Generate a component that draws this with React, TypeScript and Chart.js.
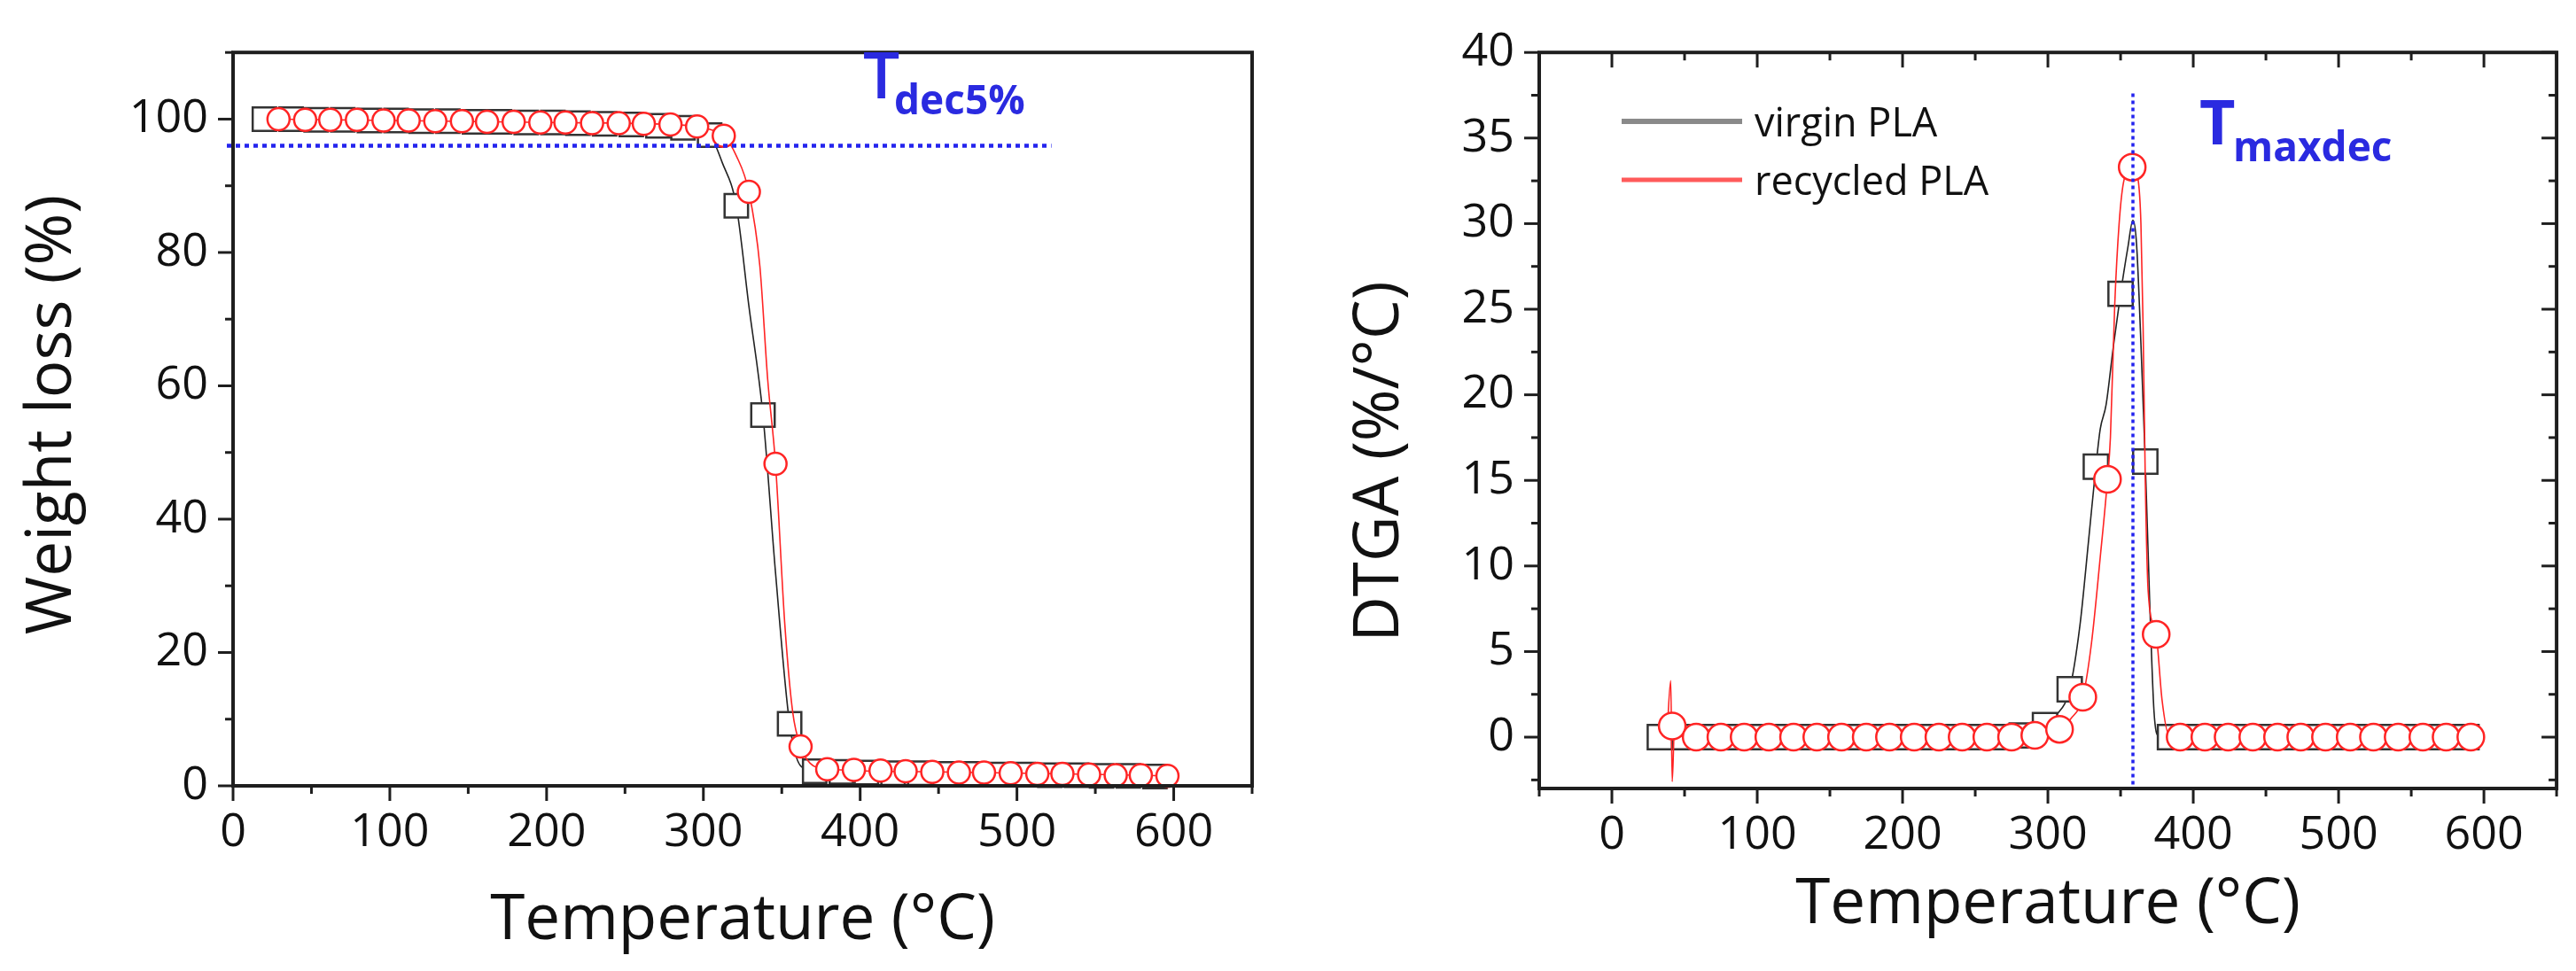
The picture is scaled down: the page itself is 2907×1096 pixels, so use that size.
import React, { useEffect, useRef } from 'react';
import { Chart, registerables } from 'chart.js';

Chart.register(...registerables);

// ---------------- DATA ----------------
// Tick labels
const tempTicks = [0, 100, 200, 300, 400, 500, 600];
const tgaYTicks = [0, 20, 40, 60, 80, 100];
const dtgYTicks = [0, 5, 10, 15, 20, 25, 30, 35, 40];

// Left panel: TGA weight loss (%) vs temperature (°C)
const tgaVirginMarkT = [20, 37, 53, 70, 87, 104, 120, 137, 154, 170, 187, 204, 220, 237, 254, 271, 287, 304, 321, 338, 355, 371, 388, 404, 421, 438, 454, 471, 488, 504, 521, 538, 554, 571, 588];
const tgaVirginMarkW = [100, 100, 99.9, 99.9, 99.8, 99.8, 99.7, 99.7, 99.6, 99.6, 99.5, 99.5, 99.4, 99.3, 99.2, 99.0, 98.7, 97.6, 87.0, 55.6, 9.3, 2.2, 2.1, 2.0, 1.9, 1.9, 1.8, 1.8, 1.7, 1.7, 1.6, 1.6, 1.5, 1.5, 1.4];
const tgaVirginLineT = [20, 100, 200, 287, 298, 304, 312, 321, 329, 338, 346, 355, 362, 371, 450, 588];
const tgaVirginLineW = [100, 99.8, 99.5, 98.7, 98.0, 97.6, 93.5, 87.0, 72.0, 55.6, 32.0, 9.3, 3.0, 2.2, 1.9, 1.4];

const tgaRecycledMarkT = [29, 46, 62, 79, 96, 112, 129, 146, 162, 179, 196, 212, 229, 246, 262, 279, 296, 313, 329, 346, 362, 379, 396, 413, 429, 446, 463, 479, 496, 513, 529, 546, 563, 579, 596];
const tgaRecycledMarkW = [100, 99.9, 99.9, 99.9, 99.8, 99.8, 99.7, 99.7, 99.6, 99.6, 99.5, 99.5, 99.4, 99.4, 99.3, 99.2, 98.9, 97.5, 89.1, 48.3, 5.9, 2.5, 2.4, 2.3, 2.2, 2.1, 2.0, 2.0, 1.9, 1.8, 1.8, 1.7, 1.6, 1.6, 1.5];
const tgaRecycledLineT = [29, 100, 200, 279, 296, 305, 313, 321, 329, 336, 341, 346, 352, 357, 362, 368, 379, 450, 596];
const tgaRecycledLineW = [100, 99.8, 99.5, 99.2, 98.9, 98.4, 97.5, 94.5, 89.1, 78.0, 61.0, 48.3, 24.0, 11.0, 5.9, 3.4, 2.5, 2.1, 1.5];

const tgaOnsetLevel = 96; // T dec 5% reference line (%)
const tgaOnsetLineEnd = 522; // °C

// Right panel: DTGA (%/°C) vs temperature (°C)
const dtgVirginMarkT = [33, 50, 66, 83, 99, 116, 133, 149, 166, 182, 199, 216, 232, 249, 265, 282, 298, 315, 333, 350, 367, 384, 401, 418, 435, 452, 469, 486, 503, 520, 537, 554, 571, 588];
const dtgVirginMarkV = [0, 0, 0, 0, 0, 0, 0, 0, 0, 0, 0, 0, 0, 0, 0, 0.1, 0.7, 2.8, 15.8, 25.9, 16.1, 0, 0, 0, 0, 0, 0, 0, 0, 0, 0, 0, 0, 0];
const dtgVirginLineT = [30, 150, 270, 288, 298, 306, 315, 322, 328, 333, 336, 340, 345, 350, 355, 358.5, 361, 364, 367, 370, 373, 376, 450, 590];
const dtgVirginLineV = [0, 0, 0, 0.2, 0.7, 1.3, 2.8, 6.5, 11.5, 15.8, 18.0, 19.4, 22.8, 25.9, 28.6, 30.2, 28.8, 23.0, 16.1, 8.0, 1.5, 0.1, 0, 0];

const dtgRecycledMarkT = [41.5, 58, 75, 91, 108, 125, 141, 158, 175, 191, 208, 225, 241, 258, 275, 291, 308, 324, 341, 358, 374.5, 391, 408, 424, 441, 458, 474, 491, 508, 524, 541, 558, 574, 591];
const dtgRecycledMarkV = [0.65, 0, 0, 0, 0, 0, 0, 0, 0, 0, 0, 0, 0, 0, 0, 0.1, 0.46, 2.33, 15.06, 33.3, 6.0, 0, 0, 0, 0, 0, 0, 0, 0, 0, 0, 0, 0, 0];
const dtgRecycledLineT = [38, 40.5, 41.5, 43, 46, 150, 270, 291, 300, 308, 316, 324, 330, 336, 341, 343, 346, 349, 352, 358, 362, 364, 365.5, 367, 369, 374.5, 378.5, 383, 450, 591];
const dtgRecycledLineV = [0.3, 3.3, -2.6, 0.4, 0.05, 0, 0, 0.1, 0.25, 0.46, 1.1, 2.33, 5.5, 10.5, 15.06, 17.5, 25.3, 30.0, 32.4, 33.3, 32.6, 30.0, 24.0, 15.0, 8.5, 6.0, 2.2, 0.2, 0, 0];

const dtgPeakT = 358.5; // T maxdec reference line (°C)
const dtgPeakLineTop = 37.6;

const legendLabels = ['virgin PLA', 'recycled PLA'];

// ---------------- STYLE ----------------
const FONT = '"Open Sans", "Noto Sans", "DejaVu Sans", sans-serif';
const AXIS = '#1e1e1e';
const TEXT = '#111111';
const RED = '#ff2424';
const BLACK = '#222222';
const SQUARE = '#333333';
const BLUE = '#2424ee';
const BLUE_TEXT = '#2a2ae0';

const pts = (xs: number[], ys: number[]) => xs.map((x, i) => ({ x, y: ys[i] }));

function drawFrameTicks(chart: any, xMinor: number, yMinor: number, inner: boolean) {
  const { ctx, chartArea: a } = chart;
  const xs = chart.scales.x;
  const ys = chart.scales.y;
  const MAJ = 17;
  const MIN = 9;
  ctx.save();
  ctx.strokeStyle = AXIS;
  ctx.lineWidth = 3;
  ctx.lineCap = 'butt';
  const line = (x1: number, y1: number, x2: number, y2: number) => {
    ctx.beginPath();
    ctx.moveTo(x1, y1);
    ctx.lineTo(x2, y2);
    ctx.stroke();
  };
  const isMajor = (v: number, minor: number) => {
    const r = v / (2 * minor);
    return Math.abs(r - Math.round(r)) < 1e-6;
  };
  for (let v = Math.ceil(xs.min / xMinor - 1e-9) * xMinor; v <= xs.max + 1e-9; v += xMinor) {
    const len = isMajor(v, xMinor) ? MAJ : MIN;
    const px = xs.getPixelForValue(v);
    line(px, a.bottom, px, a.bottom + len);
    if (inner) line(px, a.top, px, a.top + len);
  }
  for (let v = Math.ceil(ys.min / yMinor - 1e-9) * yMinor; v <= ys.max + 1e-9; v += yMinor) {
    const len = isMajor(v, yMinor) ? MAJ : MIN;
    const py = ys.getPixelForValue(v);
    line(a.left, py, a.left - len, py);
    if (inner) line(a.right, py, a.right - len, py);
  }
  ctx.lineWidth = 4;
  ctx.lineJoin = 'miter';
  ctx.strokeRect(a.left, a.top, a.right - a.left, a.bottom - a.top);
  ctx.restore();
}

function drawText(ctx: any, s: string, x: number, y: number, font: string, color: string, align: string = 'left', rot: number = 0) {
  ctx.save();
  ctx.font = font;
  ctx.fillStyle = color;
  ctx.textAlign = align;
  ctx.textBaseline = 'alphabetic';
  ctx.translate(x, y);
  if (rot) ctx.rotate(rot);
  ctx.fillText(s, 0, 0);
  ctx.restore();
}

const leftDecor = {
  id: 'leftDecor',
  afterDatasetsDraw(chart: any) {
    const { ctx, chartArea: a } = chart;
    const xs = chart.scales.x;
    const ys = chart.scales.y;
    ctx.save();
    ctx.strokeStyle = BLUE;
    ctx.lineWidth = 4.5;
    ctx.setLineDash([5, 5]);
    const py = ys.getPixelForValue(tgaOnsetLevel);
    ctx.beginPath();
    ctx.moveTo(a.left - 7, py);
    ctx.lineTo(xs.getPixelForValue(tgaOnsetLineEnd), py);
    ctx.stroke();
    ctx.restore();
    drawFrameTicks(chart, 50, 10, false);
  },
  afterDraw(chart: any) {
    const { ctx, chartArea: a } = chart;
    drawText(ctx, 'Temperature (°C)', (a.left + a.right) / 2, 1060, `71px ${FONT}`, TEXT, 'center');
    drawText(ctx, 'Weight loss (%)', 80, 468, `71px ${FONT}`, TEXT, 'center', -Math.PI / 2);
    drawText(ctx, 'T', 974, 111, `600 73px ${FONT}`, BLUE_TEXT);
    drawText(ctx, 'dec5%', 1009, 129, `bold 46px ${FONT}`, BLUE_TEXT);
  },
};

const rightDecor = {
  id: 'rightDecor',
  afterDatasetsDraw(chart: any) {
    const { ctx, chartArea: a } = chart;
    const xs = chart.scales.x;
    const ys = chart.scales.y;
    ctx.save();
    ctx.strokeStyle = BLUE;
    ctx.lineWidth = 3.5;
    ctx.setLineDash([4, 4]);
    const px = xs.getPixelForValue(dtgPeakT);
    ctx.beginPath();
    ctx.moveTo(px, ys.getPixelForValue(dtgPeakLineTop));
    ctx.lineTo(px, a.bottom);
    ctx.stroke();
    ctx.restore();
    drawFrameTicks(chart, 50, 2.5, true);
  },
  afterDraw(chart: any) {
    const { ctx, chartArea: a } = chart;
    drawText(ctx, 'Temperature (°C)', (a.left + a.right) / 2, 1042, `71px ${FONT}`, TEXT, 'center');
    drawText(ctx, 'DTGA (%/°C)', 128, 521, `71px ${FONT}`, TEXT, 'center', -Math.PI / 2);
    drawText(ctx, 'T', 1032, 163, `bold 70px ${FONT}`, BLUE_TEXT);
    drawText(ctx, 'maxdec', 1070, 182, `bold 46px ${FONT}`, BLUE_TEXT);
    // legend
    ctx.save();
    ctx.lineCap = 'butt';
    ctx.strokeStyle = '#8a8a8a';
    ctx.lineWidth = 6;
    ctx.beginPath();
    ctx.moveTo(380, 137);
    ctx.lineTo(516, 137);
    ctx.stroke();
    ctx.strokeStyle = '#ff5a5a';
    ctx.lineWidth = 5;
    ctx.beginPath();
    ctx.moveTo(380, 203);
    ctx.lineTo(516, 203);
    ctx.stroke();
    ctx.restore();
    drawText(ctx, legendLabels[0], 530, 154, `45px ${FONT}`, TEXT);
    drawText(ctx, legendLabels[1], 530, 220, `45px ${FONT}`, TEXT);
  },
};

function makeConfig(p: any) {
  const tickFont = { family: FONT, size: 52 };
  return {
    type: 'scatter',
    data: {
      datasets: [
        {
          data: p.virginLine,
          showLine: true,
          borderColor: BLACK,
          borderWidth: 1.6,
          pointRadius: 0,
          cubicInterpolationMode: 'monotone',
          order: 4,
        },
        {
          data: p.virginMarks,
          showLine: false,
          pointStyle: 'rect',
          pointRadius: p.squareR,
          pointBorderWidth: 2.5,
          pointBorderColor: SQUARE,
          pointBackgroundColor: '#ffffff',
          borderColor: SQUARE,
          backgroundColor: '#ffffff',
          clip: false,
          order: 3,
        },
        {
          data: p.recycledLine,
          showLine: true,
          borderColor: RED,
          borderWidth: 1.6,
          pointRadius: 0,
          cubicInterpolationMode: 'monotone',
          order: 2,
        },
        {
          data: p.recycledMarks,
          showLine: false,
          pointStyle: 'circle',
          pointRadius: p.circleR,
          pointBorderWidth: 2.5,
          pointBorderColor: RED,
          pointBackgroundColor: '#ffffff',
          borderColor: RED,
          backgroundColor: '#ffffff',
          clip: false,
          order: 1,
        },
      ],
    },
    options: {
      responsive: false,
      animation: false,
      events: [],
      layout: { padding: { left: 0, top: p.padTop, right: p.padRight, bottom: 0 } },
      plugins: { legend: { display: false }, tooltip: { enabled: false } },
      scales: {
        x: {
          type: 'linear',
          position: 'bottom',
          min: p.xMin,
          max: p.xMax,
          grid: { display: false, drawTicks: false },
          border: { display: false },
          title: { display: false },
          afterBuildTicks: (s: any) => {
            s.ticks = p.xTicks.map((v: number) => ({ value: v }));
          },
          ticks: {
            autoSkip: false,
            maxRotation: 0,
            padding: 22,
            color: TEXT,
            font: tickFont,
            callback: (v: number) => String(v),
          },
          afterFit: (s: any) => {
            s.height = p.xHeight;
          },
        },
        y: {
          type: 'linear',
          position: 'left',
          min: p.yMin,
          max: p.yMax,
          grid: { display: false, drawTicks: false },
          border: { display: false },
          title: { display: false },
          afterBuildTicks: (s: any) => {
            s.ticks = p.yTicks.map((v: number) => ({ value: v }));
          },
          ticks: {
            autoSkip: false,
            padding: 28,
            color: TEXT,
            font: tickFont,
            callback: (v: number) => String(v),
          },
          afterFit: (s: any) => {
            s.width = p.yWidth;
          },
        },
      },
    },
    plugins: [p.decor],
  };
}

export default function App() {
  const leftRef = useRef<HTMLCanvasElement>(null);
  const rightRef = useRef<HTMLCanvasElement>(null);

  useEffect(() => {
    document.body.style.margin = '0';
    const left = new Chart(
      leftRef.current as HTMLCanvasElement,
      makeConfig({
        virginLine: pts(tgaVirginLineT, tgaVirginLineW),
        virginMarks: pts(tgaVirginMarkT, tgaVirginMarkW),
        recycledLine: pts(tgaRecycledLineT, tgaRecycledLineW),
        recycledMarks: pts(tgaRecycledMarkT, tgaRecycledMarkW),
        squareR: 18.7,
        circleR: 12.5,
        xMin: 0,
        xMax: 650,
        yMin: 0,
        yMax: 110,
        xTicks: tempTicks,
        yTicks: tgaYTicks,
        padTop: 38,
        padRight: 37,
        xHeight: 209,
        yWidth: 263,
        decor: leftDecor,
      }) as any
    );
    const right = new Chart(
      rightRef.current as HTMLCanvasElement,
      makeConfig({
        virginLine: pts(dtgVirginLineT, dtgVirginLineV),
        virginMarks: pts(dtgVirginMarkT, dtgVirginMarkV),
        recycledLine: pts(dtgRecycledLineT, dtgRecycledLineV),
        recycledMarks: pts(dtgRecycledMarkT, dtgRecycledMarkV),
        squareR: 19.4,
        circleR: 15,
        xMin: -50,
        xMax: 650,
        yMin: -3,
        yMax: 40,
        xTicks: tempTicks,
        yTicks: dtgYTicks,
        padTop: 41,
        padRight: 18,
        xHeight: 206,
        yWidth: 287,
        decor: rightDecor,
      }) as any
    );
    const fonts: any = (document as any).fonts;
    if (fonts && fonts.ready) {
      fonts.ready.then(() => {
        try {
          left.update();
          right.update();
        } catch (e) {}
      });
    }
    return () => {
      left.destroy();
      right.destroy();
    };
  }, []);

  return (
    <div style={{ position: 'fixed', left: 0, top: 0, width: 2907, height: 1096, background: '#ffffff', overflow: 'hidden' }}>
      <canvas ref={leftRef} width={1450} height={1096} style={{ position: 'absolute', left: 0, top: 0 }} />
      <canvas ref={rightRef} width={1457} height={1096} style={{ position: 'absolute', left: 1450, top: 0 }} />
    </div>
  );
}
